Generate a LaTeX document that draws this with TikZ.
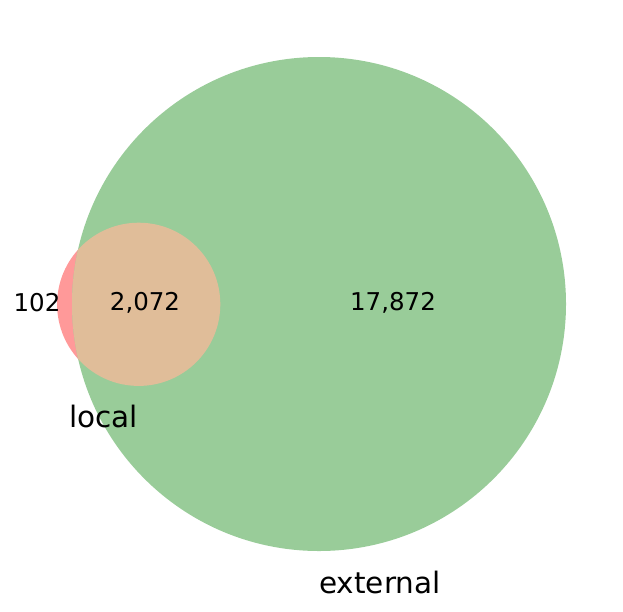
\documentclass[tikz,border=0pt]{standalone}
\usepackage{fontspec}
\setmainfont{DejaVu Sans}
\definecolor{setA}{HTML}{FF9999}
\definecolor{setB}{HTML}{99CC99}
\definecolor{setAB}{HTML}{E0BD99}
\begin{document}
\begin{tikzpicture}[x=1pt,y=-1pt,
  num/.style={font=\fontsize{24.5}{28}\selectfont, text=black, inner sep=0pt},
  setlabel/.style={font=\fontsize{29.5}{34}\selectfont, text=black, inner sep=0pt}]
\useasboundingbox (0,0) rectangle (623,611);
\coordinate (cA) at (138.7,304.3);
\coordinate (cB) at (319,304);
% region A only
\fill[setA] (cA) circle[radius=81.6];
% region B
\fill[setB] (cB) circle[radius=247];
% intersection
\begin{scope}
  \clip (cA) circle[radius=81.6];
  \fill[setAB] (cB) circle[radius=247];
\end{scope}
\node[num] (n10) at (37,303) {102};
\node[num] (n11) at (145,303) {2,072};
\node[num] (n01) at (393,303) {17,872};
\node[setlabel] (lA) at (103.5,416) {local};
\node[setlabel] (lB) at (380,582) {external};
\end{tikzpicture}
\end{document}
